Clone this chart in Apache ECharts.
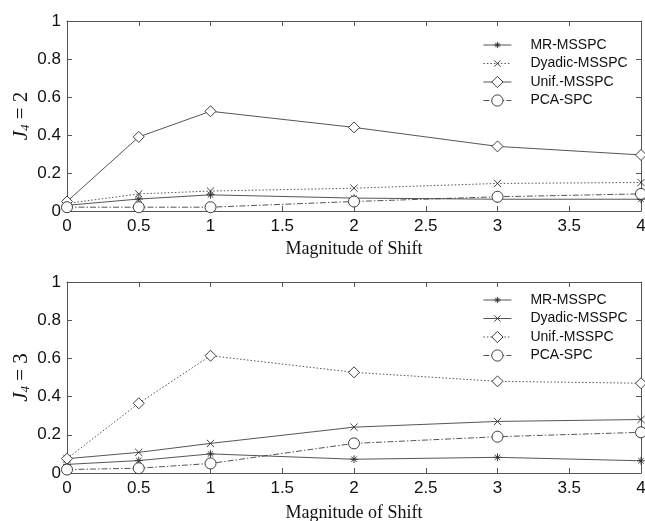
<!DOCTYPE html>
<html>
<head>
<meta charset="utf-8">
<script src="https://cdn.jsdelivr.net/npm/echarts@6/dist/echarts.min.js"></script>
<style>
  html, body { margin: 0; padding: 0; background: #fff; }
  #chart { width: 645px; height: 521px; }
</style>
</head>
<body>
<div id="chart"></div>
<script>
// shift magnitudes on the x axis
const shifts = [0, 0.5, 1, 2, 3, 4]
const methods = ['MR-MSSPC', 'Dyadic-MSSPC', 'Unif.-MSSPC', 'PCA-SPC']

// J4 = 2 (top panel)
const mrTop = [0.03, 0.063, 0.085, 0.068, 0.062, 0.062]
const dyadicTop = [0.04, 0.09, 0.105, 0.12, 0.145, 0.15]
const unifTop = [0.05, 0.39, 0.525, 0.44, 0.34, 0.295]
const pcaTop = [0.02, 0.02, 0.02, 0.05, 0.075, 0.09]

// J4 = 3 (bottom panel)
const mrBot = [0.045, 0.065, 0.10, 0.072, 0.082, 0.064]
const dyadicBot = [0.075, 0.108, 0.155, 0.24, 0.27, 0.28]
const unifBot = [0.075, 0.365, 0.614, 0.527, 0.48, 0.47]
const pcaBot = [0.018, 0.025, 0.05, 0.155, 0.19, 0.213]

const INK = '#2a2a2a'
const FRAME = '#555'
const SANS = 'Liberation Sans, Arial, sans-serif'
const SERIF = 'Liberation Serif, Times New Roman, serif'

// star and cross carry empty margins (extra moveTo points) so they come out small in the legend
const symbols = {
  star: 'path://M-4 -4M14 14M5 0L5 10M0 5L10 5M1.5 1.5L8.5 8.5M8.5 1.5L1.5 8.5',
  cross: 'path://M-4 -4M14 14M0 0L10 10M10 0L0 10',
  diamond: 'path://M5 0L10 5L5 10L0 5Z',
  circle: 'circle',
}

function pairs(ys) {
  return shifts.map((x, i) => [x, ys[i]])
}

function mkSeries(name, ys, idx, sym, size, dash) {
  const hollow = sym === 'circle' || sym === 'diamond'
  return {
    name,
    type: 'line',
    xAxisIndex: idx,
    yAxisIndex: idx,
    data: pairs(ys),
    symbol: symbols[sym],
    symbolSize: size,
    showSymbol: true,
    lineStyle: { color: INK, width: 0.8, type: dash },
    itemStyle: { color: hollow ? '#fff' : 'transparent', borderColor: INK, borderWidth: 0.9 },
    emphasis: { disabled: true },
    z: 3,
  }
}

function xAxes(grid, gap) {
  const base = {
    type: 'value', gridIndex: grid, min: 0, max: 4, interval: 0.5,
    splitLine: { show: false },
    axisLine: { show: true, onZero: false, lineStyle: { color: FRAME, width: 1 } },
    axisTick: { show: true, inside: true, length: 5, lineStyle: { color: FRAME } },
  }
  return [
    {
      ...base, position: 'bottom',
      axisLabel: { color: '#111', fontSize: 17, fontFamily: SANS, margin: 7 },
      name: 'Magnitude of Shift', nameLocation: 'middle', nameGap: gap, nameMoveOverlap: false,
      nameTextStyle: { color: '#111', fontSize: 18, fontFamily: SERIF },
    },
    { ...base, position: 'top', axisLabel: { show: false } },
  ]
}

function yAxes(grid, j) {
  const base = {
    type: 'value', gridIndex: grid, min: 0, max: 1, interval: 0.2,
    splitLine: { show: false },
    axisLine: { show: true, onZero: false, lineStyle: { color: FRAME, width: 1 } },
    axisTick: { show: true, inside: true, length: 5, lineStyle: { color: FRAME } },
  }
  return [
    {
      ...base, position: 'left',
      axisLabel: { color: '#111', fontSize: 17, fontFamily: SANS, margin: 6 },
      name: `{i|J}{s|4}{n| = ${j}}`, nameLocation: 'middle', nameGap: 35, nameRotate: 90,
      nameMoveOverlap: false,
      nameTextStyle: {
        color: '#111', fontFamily: SERIF, fontSize: 21,
        rich: {
          i: { fontStyle: 'italic', fontFamily: SERIF, fontSize: 21, color: '#111' },
          s: { fontStyle: 'italic', fontFamily: SERIF, fontSize: 13, color: '#111', padding: [9, 0, 0, 0] },
          n: { fontFamily: SERIF, fontSize: 21, color: '#111' },
        },
      },
    },
    { ...base, position: 'right', axisLabel: { show: false } },
  ]
}

function legend(top, names) {
  return {
    orient: 'vertical', left: 483, top, padding: 0,
    data: names,
    itemWidth: 28, itemHeight: 14, itemGap: 4.5,
    formatter: (n) => n.trim(),
    lineStyle: { width: 0.8 },
    itemStyle: { borderWidth: 0.9 },
    textStyle: { color: '#111', fontSize: 14, fontFamily: SANS, padding: [0, 0, 0, 14] },
    selectedMode: false,
  }
}

// bottom panel uses trailing-space names so its legend keeps its own line styles
const botNames = methods.map((m) => m + ' ')

const chart = echarts.init(document.getElementById('chart'))
chart.setOption({
  backgroundColor: '#fff',
  animation: false,
  grid: [
    { left: 67, right: 4, top: 21, height: 190, outerBoundsMode: 'none' },
    { left: 67, right: 4, top: 282, height: 191, outerBoundsMode: 'none' },
  ],
  xAxis: [...xAxes(0, 29), ...xAxes(1, 31)],
  yAxis: [...yAxes(0, 2), ...yAxes(1, 3)],
  legend: [legend(38, methods), legend(293, botNames)],
  series: [
    mkSeries(methods[0], mrTop, 0, 'star', 14, 'solid'),
    mkSeries(methods[1], dyadicTop, 0, 'cross', 13, [1.5, 2]),
    mkSeries(methods[2], unifTop, 0, 'diamond', 11, 'solid'),
    mkSeries(methods[3], pcaTop, 0, 'circle', 11, [6, 2, 1.5, 2]),
    mkSeries(botNames[0], mrBot, 2, 'star', 14, 'solid'),
    mkSeries(botNames[1], dyadicBot, 2, 'cross', 13, 'solid'),
    mkSeries(botNames[2], unifBot, 2, 'diamond', 11, [1.5, 2]),
    mkSeries(botNames[3], pcaBot, 2, 'circle', 11, [6, 2, 1.5, 2]),
  ],
})
</script>
</body>
</html>
